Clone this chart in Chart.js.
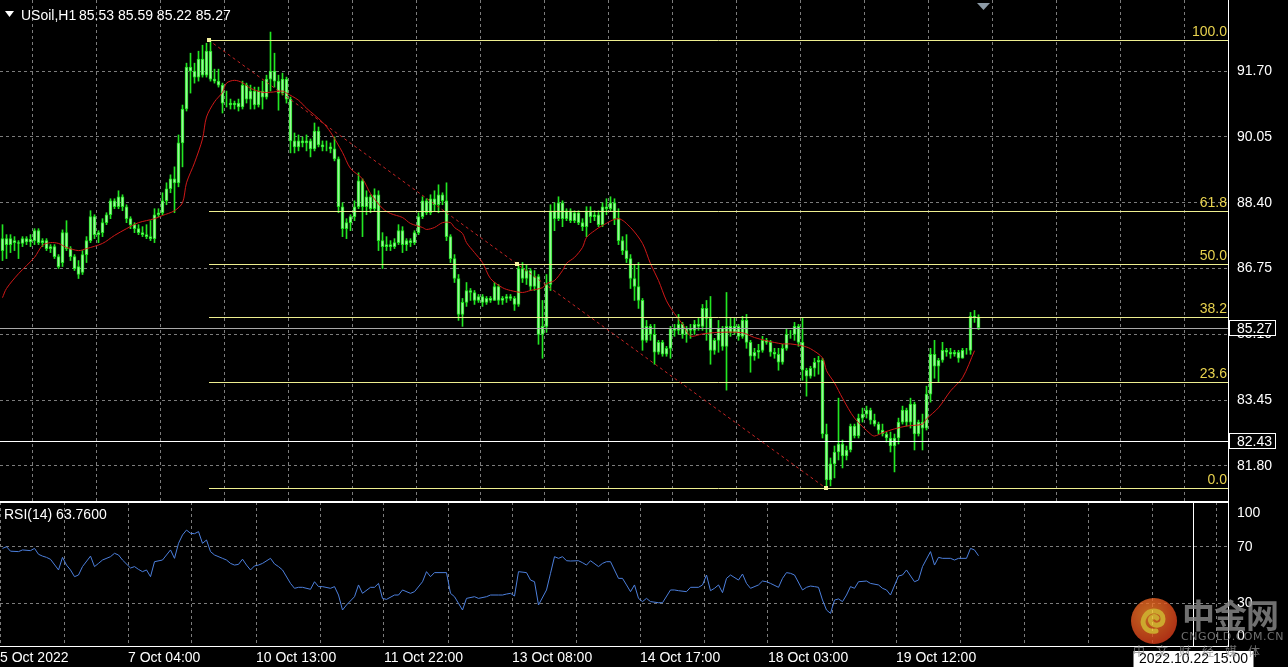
<!DOCTYPE html>
<html>
<head>
<meta charset="utf-8">
<script src="https://cdn.jsdelivr.net/npm/chart.js@4.4.1/dist/chart.umd.min.js"></script>
<style>
html, body { margin: 0; padding: 0; background: #000; overflow: hidden; }
#wrap { position: relative; width: 1288px; height: 667px; }
#main { position: absolute; left: 0; top: 0; }
#rsi { position: absolute; left: 0; top: 501px; }
#wm { position: absolute; left: 1128px; top: 595px; width: 160px; height: 64px; opacity: 0.8; pointer-events: none; }
#wm .big { position: absolute; left: 54px; top: 0; font: bold 33px "Noto Sans CJK SC", sans-serif; color: #8c8c8c; letter-spacing: -1px; line-height: 38px; }
#wm .url { position: absolute; left: 53px; top: 35px; font: 11px "DejaVu Sans", sans-serif; color: #8c8c8c; letter-spacing: 0.5px; }
#wm .sub { position: absolute; left: 5px; top: 47px; font: 12px "Noto Sans CJK SC", sans-serif; color: #8c8c8c; letter-spacing: 11px; white-space: nowrap; }
#wm svg { position: absolute; left: 2px; top: 2px; }
</style>
</head>
<body>
<div id="wrap">
  <canvas id="main" width="1288" height="501"></canvas>
  <canvas id="rsi" width="1288" height="166"></canvas>
  <div id="wm">
    <svg width="48" height="48" viewBox="0 0 48 48">
      <defs><radialGradient id="g" cx="40%" cy="35%" r="70%"><stop offset="0" stop-color="#f6862a"/><stop offset="1" stop-color="#d8391a"/></radialGradient></defs>
      <circle cx="24" cy="24" r="23" fill="url(#g)"/>
      <path d="M26 34 C16 36 10 27 15 19 C20 11 33 13 33 22 C33 29 24 30 21 25 C19 21 24 18 27 21" fill="none" stroke="#ffd23a" stroke-width="5" stroke-linecap="round"/>
    </svg>
    <div class="big">中金网</div>
    <div class="url">CNGOLD.COM.CN</div>
    <div class="sub">中文财经媒体</div>
  </div>
</div>
<script>
// USOIL H1 candles, one entry per hourly bar
const open = [
  87.2, 87.5, 87.35, 87.45, 87.4, 87.38, 87.5, 87.42, 87.45, 87.7,
  87.4, 87.45, 87.25, 87.3, 87.05, 86.9, 87.65, 87.25, 87.05, 86.8,
  86.65, 87.1, 87.45, 88.05, 87.6, 87.65, 87.9, 88.1, 88.45, 88.3,
  88.55, 88.3, 88.0, 87.85, 87.75, 87.65, 87.6, 87.55, 87.5, 88.1,
  88.15, 88.45, 88.75, 89.0, 88.9, 89.9, 90.75, 91.8, 91.7, 91.55,
  92.0, 91.6, 92.2, 91.5, 91.45, 91.35, 90.9, 90.9, 90.85, 90.9,
  90.8, 91.35, 91.0, 91.2, 90.85, 91.2, 91.05, 91.5, 91.7, 91.45,
  91.15, 91.5, 91.0, 89.95, 89.8, 89.95, 89.9, 89.95, 89.75, 90.2,
  89.85, 89.8, 89.8, 89.75, 89.5, 88.3, 87.75, 87.9, 88.05, 88.3,
  88.95, 88.3, 88.55, 88.25, 88.6, 87.45, 87.3, 87.35, 87.3, 87.4,
  87.7, 87.35, 87.45, 87.4, 87.65, 88.05, 88.45, 88.15, 88.5, 88.35,
  88.6, 88.45, 87.55, 87.0, 86.5, 85.6, 85.9, 86.2, 86.15, 85.95,
  86.05, 85.9, 86.0, 85.95, 86.3, 85.95, 86.0, 86.05, 86.0, 85.85,
  86.75, 86.5, 86.7, 86.3, 86.55, 85.1, 85.3, 86.35, 88.2, 88.0,
  88.4, 88.0, 88.2, 87.95, 88.15, 87.9, 87.8, 88.2, 88.05, 88.1,
  87.85, 88.3, 88.25, 88.4, 88.0, 87.45, 87.2, 87.0, 86.5, 86.3,
  85.95, 84.95, 85.3, 85.1, 84.65, 84.9, 84.6, 84.75, 85.25, 85.2,
  85.35, 85.1, 85.25, 85.2, 85.35, 85.3, 85.75, 85.5, 84.7, 84.95,
  85.25, 84.8, 85.3, 85.15, 85.3, 85.05, 85.45, 84.9, 84.55, 84.65,
  84.7, 84.95, 84.9, 84.65, 84.6, 84.4, 84.75, 85.1, 85.1, 85.3,
  84.9, 84.2, 84.05, 84.25, 84.4, 84.45, 82.6, 81.45, 81.85, 82.15,
  82.35, 82.05, 82.2, 82.8, 82.55, 83.0, 83.1, 83.2, 82.95, 82.85,
  82.7, 82.6, 82.5, 82.3, 82.5, 82.9, 83.2, 82.9, 83.35, 82.6,
  82.9, 82.75, 83.6, 84.6, 84.3, 84.45, 84.7, 84.65, 84.6, 84.65,
  84.5, 84.7, 84.7, 85.55, 85.53
];
const high = [
  87.85, 87.6, 87.6, 87.55, 87.45, 87.55, 87.55, 87.6, 87.75, 87.75,
  87.5, 87.5, 87.35, 87.35, 87.1, 87.72, 87.95, 87.3, 87.1, 86.95,
  87.2, 87.55, 88.2, 88.1, 87.7, 88.0, 88.15, 88.5, 88.5, 88.7,
  88.6, 88.35, 88.05, 87.9, 87.85, 87.8, 87.85, 87.95, 88.25, 88.25,
  88.65, 88.9, 89.1, 89.3, 90.1, 90.85, 91.9, 92.15, 91.9, 92.2,
  92.35, 92.4, 92.48, 91.75, 91.75, 91.4, 91.2, 91.0, 90.95, 91.0,
  91.45, 91.4, 91.35, 91.3, 91.3, 91.45, 91.6, 92.68, 92.15, 91.6,
  91.65, 91.55, 91.05, 90.15, 90.1, 90.05, 90.1, 90.0, 90.4, 90.3,
  89.95, 89.95, 89.9, 90.05, 89.55, 88.4, 88.0, 88.1, 88.45, 89.15,
  89.0, 88.7, 88.6, 88.75, 88.7, 87.65, 87.55, 87.45, 87.5, 87.85,
  87.8, 87.5, 87.5, 87.7, 88.15, 88.55, 88.5, 88.6, 88.7, 88.85,
  88.65, 88.9, 87.6, 87.1, 86.6, 86.0, 86.4, 86.25, 86.2, 86.1,
  86.1, 86.05, 86.05, 86.4, 86.35, 86.05, 86.1, 86.1, 86.05, 86.85,
  86.9, 86.85, 86.75, 86.7, 86.6, 85.95, 86.6, 88.35, 88.4, 88.55,
  88.45, 88.25, 88.25, 88.2, 88.2, 88.0, 88.3, 88.3, 88.2, 88.2,
  88.4, 88.5, 88.55, 88.5, 88.25, 87.55, 87.6, 87.1, 86.85, 86.9,
  86.0, 85.45, 85.35, 85.35, 84.95, 84.95, 84.8, 85.3, 85.35, 85.6,
  85.4, 85.3, 85.35, 85.45, 85.5, 85.85, 85.95, 86.05, 85.0, 85.45,
  85.3, 86.15, 85.5, 85.5, 85.35, 85.55, 85.6, 84.95, 84.75, 84.85,
  85.05, 85.0, 84.95, 84.75, 84.75, 84.85, 85.25, 85.2, 85.4, 85.35,
  85.5, 84.25, 84.3, 84.5, 84.55, 84.5, 82.85, 82.0, 82.3, 83.5,
  82.45, 82.3, 82.85, 82.85, 83.1, 83.25, 83.3, 83.25, 83.1, 82.9,
  82.85, 82.65, 82.65, 82.6, 83.0, 83.3, 83.25, 83.5, 83.4, 82.95,
  83.1, 83.8, 84.75, 84.95, 84.5, 84.9, 84.75, 84.75, 84.7, 84.7,
  84.75, 84.75, 85.65, 85.7, 85.59
];
const low = [
  86.95, 87.0, 87.15, 87.2, 87.0, 87.3, 87.35, 87.3, 87.35, 87.35,
  87.3, 87.2, 87.15, 87.0, 86.75, 86.8, 87.2, 86.95, 86.7, 86.5,
  86.6, 86.9, 87.4, 87.5, 87.4, 87.55, 87.85, 88.0, 88.25, 88.25,
  88.2, 87.9, 87.75, 87.65, 87.6, 87.55, 87.5, 87.45, 87.4, 88.05,
  88.1, 88.35, 88.65, 88.15, 88.8, 89.3, 90.7, 91.15, 91.4, 91.45,
  91.55, 91.55, 91.45, 91.4, 91.3, 90.65, 90.8, 90.75, 90.75, 90.7,
  90.75, 90.9, 90.75, 90.75, 90.8, 90.75, 91.0, 91.2, 91.3, 90.72,
  91.1, 90.9, 89.65, 89.65, 89.7, 89.8, 89.7, 89.55, 89.7, 89.8,
  89.7, 89.7, 89.65, 89.45, 88.15, 87.55, 87.5, 87.7, 87.95, 88.25,
  87.55, 88.1, 88.15, 88.2, 87.2, 86.75, 87.2, 87.2, 87.25, 87.35,
  87.15, 87.2, 87.3, 87.35, 87.6, 88.0, 88.1, 88.1, 88.2, 88.15,
  88.35, 87.45, 86.9, 86.4, 85.45, 85.3, 85.8, 85.95, 85.85, 85.9,
  85.8, 85.85, 85.9, 85.95, 85.85, 85.85, 85.9, 85.95, 85.7, 85.8,
  86.4, 86.35, 86.2, 86.2, 84.85, 84.5, 85.15, 86.2, 87.7, 87.95,
  87.8, 87.95, 87.9, 87.9, 87.85, 87.7, 87.55, 87.9, 87.95, 87.8,
  87.8, 88.1, 88.2, 87.85, 87.35, 87.1, 86.9, 86.25, 85.95, 85.75,
  84.7, 84.9, 84.95, 84.35, 84.6, 84.55, 84.55, 84.5, 85.05, 85.1,
  85.0, 84.9, 85.0, 85.1, 85.2, 85.2, 84.95, 84.35, 84.6, 84.65,
  84.7, 83.7, 85.05, 85.1, 84.95, 85.0, 84.75, 84.15, 84.45, 84.5,
  84.65, 84.85, 84.55, 84.5, 84.2, 84.35, 84.7, 85.0, 84.95, 84.8,
  83.95, 83.55, 84.0, 84.05, 84.1, 82.5, 81.25, 81.3, 81.5, 81.95,
  81.75, 81.95, 82.15, 82.5, 82.5, 82.9, 83.0, 82.85, 82.8, 82.6,
  82.55, 82.4, 82.15, 81.65, 82.35, 82.85, 82.8, 82.75, 82.2, 82.55,
  82.2, 82.7, 83.4, 84.0, 83.9, 84.4, 84.55, 84.5, 84.55, 84.4,
  84.5, 84.6, 84.6, 85.4, 85.22
];
const close = [
  87.5, 87.35, 87.5, 87.4, 87.38, 87.5, 87.42, 87.48, 87.7, 87.4,
  87.45, 87.25, 87.3, 87.05, 86.8, 87.65, 87.25, 87.05, 86.75, 86.6,
  87.1, 87.45, 88.05, 87.6, 87.65, 87.9, 88.1, 88.45, 88.3, 88.55,
  88.3, 88.0, 87.85, 87.75, 87.65, 87.6, 87.55, 87.5, 88.1, 88.15,
  88.45, 88.75, 89.0, 88.9, 89.9, 90.75, 91.8, 91.7, 91.55, 92.0,
  91.6, 92.2, 91.5, 91.45, 91.35, 90.9, 90.9, 90.85, 90.9, 90.8,
  91.35, 91.0, 91.2, 90.85, 91.2, 91.05, 91.5, 91.7, 91.45, 91.15,
  91.5, 91.0, 89.95, 89.8, 89.95, 89.9, 89.95, 89.75, 90.2, 89.85,
  89.8, 89.8, 89.75, 89.5, 88.3, 87.75, 87.9, 88.05, 88.3, 88.95,
  88.3, 88.55, 88.25, 88.6, 87.45, 87.3, 87.35, 87.3, 87.4, 87.7,
  87.35, 87.45, 87.4, 87.65, 88.05, 88.45, 88.15, 88.5, 88.35, 88.6,
  88.45, 87.55, 87.0, 86.5, 85.6, 85.9, 86.2, 86.15, 85.95, 86.05,
  85.9, 86.0, 85.95, 86.3, 85.95, 86.0, 86.05, 86.0, 85.85, 86.75,
  86.5, 86.7, 86.3, 86.55, 85.1, 85.3, 86.35, 88.2, 88.0, 88.4,
  88.0, 88.2, 87.95, 88.15, 87.9, 87.8, 88.2, 88.05, 88.1, 87.85,
  88.3, 88.25, 88.4, 88.0, 87.45, 87.2, 87.0, 86.5, 86.3, 85.95,
  84.95, 85.3, 85.1, 84.65, 84.9, 84.6, 84.75, 85.25, 85.2, 85.35,
  85.1, 85.25, 85.2, 85.35, 85.3, 85.75, 85.5, 84.7, 84.95, 85.25,
  84.8, 85.3, 85.15, 85.3, 85.05, 85.45, 84.9, 84.55, 84.65, 84.7,
  84.95, 84.9, 84.65, 84.6, 84.4, 84.75, 85.1, 85.1, 85.3, 84.9,
  84.2, 84.05, 84.25, 84.4, 84.45, 82.6, 81.45, 81.85, 82.15, 82.35,
  82.05, 82.2, 82.8, 82.55, 83.0, 83.1, 83.2, 82.95, 82.85, 82.7,
  82.6, 82.5, 82.3, 82.5, 82.9, 83.2, 82.9, 83.35, 82.6, 82.9,
  82.75, 83.6, 84.6, 84.3, 84.45, 84.7, 84.65, 84.6, 84.65, 84.5,
  84.7, 84.7, 85.55, 85.53, 85.27
];

// red moving average, read at the bars where it could be measured
const maBar = [0, 1, 4, 8, 10, 12, 14, 16, 19, 21, 25, 28, 31, 34, 38, 40, 43, 45, 46, 48,
  50, 51, 53, 55, 56, 58, 60, 62, 65, 67, 70, 71, 74, 76, 80, 82, 85, 87, 90, 92,
  95, 97, 100, 102, 105, 106, 108, 110, 112, 113, 115, 116, 118, 120, 122, 125, 127, 130, 132, 135,
  136, 138, 140, 141, 143, 145, 146, 148, 150, 154, 157, 160, 162, 164, 166, 168, 170, 172, 175, 179,
  185, 188, 191, 195, 197, 200, 202, 205, 206, 208, 210, 213, 217, 218, 220, 223, 226, 230, 231, 234,
  237, 240, 243];
const maVal = [86.02, 86.25, 86.62, 87.03, 87.33, 87.40, 87.38, 87.28, 87.20, 87.25, 87.38, 87.58, 87.75, 87.90, 88.00, 88.08, 88.20, 88.40, 88.90, 89.40,
  90.00, 90.55, 90.93, 91.17, 91.40, 91.47, 91.41, 91.27, 91.17, 91.17, 91.20, 91.15, 90.97, 90.77, 90.42, 90.17, 89.66, 89.26, 89.00, 88.63,
  88.26, 88.13, 88.03, 87.88, 87.78, 87.73, 87.78, 87.90, 87.90, 87.78, 87.63, 87.40, 87.15, 86.90, 86.50, 86.27, 86.20, 86.15, 86.20, 86.27,
  86.37, 86.45, 86.70, 86.88, 87.03, 87.28, 87.53, 87.70, 87.83, 88.00, 87.78, 87.38, 86.87, 86.45, 85.94, 85.62, 85.36, 85.06, 85.11, 85.15,
  85.14, 85.02, 84.94, 84.86, 84.86, 84.81, 84.74, 84.51, 84.19, 83.88, 83.50, 83.00, 82.60, 82.55, 82.63, 82.73, 82.80, 82.85, 82.98, 83.26,
  83.68, 84.01, 84.69];

// RSI(14)
const rsiBar = [0, 1, 2, 4, 5, 7, 8, 9, 10, 11, 12, 14, 15, 16, 17, 18, 19, 20, 22, 23,
  24, 25, 27, 28, 29, 30, 32, 33, 34, 35, 36, 37, 38, 40, 41, 42, 43, 44, 45, 46,
  47, 48, 49, 50, 51, 52, 53, 55, 56, 57, 58, 59, 60, 61, 62, 63, 64, 65, 67, 68,
  69, 70, 72, 73, 74, 75, 77, 78, 79, 80, 82, 83, 84, 85, 86, 88, 89, 90, 92, 93,
  94, 95, 96, 98, 99, 100, 102, 103, 105, 106, 107, 108, 111, 112, 113, 115, 116, 118, 119, 121,
  122, 124, 125, 126, 127, 128, 129, 131, 132, 133, 134, 136, 137, 138, 139, 140, 141, 142, 144, 145,
  146, 147, 149, 150, 151, 152, 154, 155, 156, 157, 158, 159, 160, 161, 162, 164, 165, 167, 168, 169,
  171, 172, 174, 175, 176, 177, 178, 179, 180, 181, 182, 184, 185, 186, 187, 189, 190, 191, 192, 194,
  195, 196, 197, 198, 200, 201, 202, 203, 204, 205, 206, 207, 208, 209, 210, 211, 212, 213, 214, 216,
  217, 219, 220, 221, 222, 224, 225, 226, 228, 229, 230, 232, 233, 234, 235, 237, 238, 239, 241, 242,
  243, 244];
const rsiVal = [69.0, 70.2, 67.0, 66.7, 67.9, 67.4, 69.0, 64.8, 63.5, 62.6, 61.2, 53.6, 62.6, 57.1, 53.6, 48.8, 50.0, 56.0, 63.5, 56.0,
  58.3, 60.7, 63.1, 65.5, 64.3, 60.7, 55.0, 56.0, 54.0, 52.4, 53.6, 48.8, 59.5, 60.7, 64.3, 67.9, 61.9, 72.6, 78.6, 82.1,
  79.8, 79.5, 81.0, 72.6, 75.0, 66.7, 64.3, 61.9, 60.7, 58.3, 57.1, 57.6, 61.3, 57.1, 53.6, 56.5, 57.1, 58.3, 61.9, 57.9,
  56.0, 53.6, 44.0, 40.5, 41.2, 41.2, 39.8, 45.2, 41.7, 41.7, 40.5, 41.7, 35.7, 25.0, 28.6, 34.5, 42.9, 36.9, 41.2, 41.2,
  44.0, 33.3, 32.6, 35.7, 35.7, 39.3, 36.9, 38.1, 45.2, 52.4, 48.8, 51.7, 51.7, 36.9, 34.5, 25.0, 33.3, 34.5, 33.3, 34.5,
  35.7, 35.7, 35.7, 36.4, 36.9, 35.0, 52.4, 51.7, 46.4, 45.2, 28.6, 39.3, 51.2, 63.1, 61.9, 63.1, 60.2, 60.0, 60.2, 58.8,
  57.1, 60.2, 56.0, 58.3, 59.5, 59.5, 47.6, 47.6, 42.9, 38.1, 42.9, 33.3, 31.0, 33.3, 31.0, 30.2, 30.2, 39.3, 39.3, 38.8,
  38.1, 41.2, 41.2, 42.9, 50.0, 38.8, 40.5, 42.9, 37.4, 47.6, 50.0, 46.4, 50.7, 44.0, 40.5, 42.9, 45.7, 45.2, 44.0, 41.2,
  47.6, 51.7, 51.2, 50.0, 39.3, 41.2, 42.1, 41.7, 41.2, 32.1, 25.0, 22.6, 32.1, 32.9, 31.0, 35.7, 41.7, 40.5, 45.2, 45.7,
  44.0, 42.9, 40.5, 39.3, 35.7, 49.3, 50.0, 53.6, 45.2, 46.4, 56.0, 66.7, 57.1, 62.6, 61.9, 61.9, 60.7, 61.9, 61.9, 69.0,
  67.9, 63.76];

// axis ticks and labels
const priceTicks = [91.70, 90.05, 88.40, 86.75, 85.10, 83.45, 81.80];
const rsiTicks = [100, 70, 30, 0];
const timeLabels = ['5 Oct 2022', '7 Oct 04:00', '10 Oct 13:00', '11 Oct 22:00', '13 Oct 08:00', '14 Oct 17:00', '18 Oct 03:00', '19 Oct 12:00'];

// objects on the chart
const fibHigh = 92.48, fibLow = 81.25;
const fibLevels = [100, 61.8, 50, 38.2, 23.6, 0];
const trendFrom = [51.5, 92.48], trendTo = [205.75, 81.25];
const hLine = 82.43;
const vLineBar = 297.5, vLineLabel = '2022.10.22 15:00';

const FONT = '"Liberation Sans", Arial, sans-serif';
Chart.defaults.font.family = FONT;
Chart.defaults.font.size = 14;
Chart.defaults.color = '#ffffff';

const X_MIN = -0.625, X_MAX = 306.375; // 307 slots, 4px each
const GRID = '#7c7c7c';
const gridTicks = s => {
  const t = [];
  for (let v = X_MIN; v < X_MAX; v += 16) t.push({ value: v });
  s.ticks = t;
};
const noPad = s => { s.paddingTop = 0; s.paddingBottom = 0; s.paddingLeft = 0; s.paddingRight = 0; };

const last = close.length - 1;

const mainOverlay = {
  id: 'mainOverlay',
  afterDatasetsDraw(chart) {
    const { ctx, chartArea: a, scales: { x, y } } = chart;
    const py = v => Math.round(y.getPixelForValue(v)) + 0.5;
    const hl = (yy, x0, x1) => { ctx.beginPath(); ctx.moveTo(x0, yy); ctx.lineTo(x1, yy); ctx.stroke(); };
    ctx.save();
    ctx.lineWidth = 1;

    // bid line
    ctx.strokeStyle = '#a9a9a9';
    hl(py(close[last]), a.left, a.right);

    // horizontal line object
    ctx.strokeStyle = '#ffffff';
    hl(py(hLine), a.left, a.right);

    // fibonacci levels
    const fx = Math.round(x.getPixelForValue(trendFrom[0]));
    ctx.font = '14px ' + FONT;
    ctx.textAlign = 'right';
    ctx.textBaseline = 'bottom';
    fibLevels.forEach(l => {
      const yy = py(fibLow + (fibHigh - fibLow) * l / 100);
      ctx.strokeStyle = '#eeee90';
      hl(yy, fx, a.right);
      ctx.fillStyle = '#e8d24e';
      ctx.fillText(l.toFixed(1), a.right - 1, yy - 1);
    });

    // fibo trend line
    const tx0 = x.getPixelForValue(trendFrom[0]), ty0 = y.getPixelForValue(trendFrom[1]);
    const tx1 = x.getPixelForValue(trendTo[0]), ty1 = y.getPixelForValue(trendTo[1]);
    ctx.setLineDash([3, 3]);
    ctx.strokeStyle = '#c62424';
    ctx.beginPath(); ctx.moveTo(tx0, ty0); ctx.lineTo(tx1, ty1); ctx.stroke();
    ctx.setLineDash([]);
    ctx.fillStyle = '#f4f0a0';
    [[tx0, ty0], [(tx0 + tx1) / 2, (ty0 + ty1) / 2], [tx1, ty1]].forEach(([px, pyy]) => {
      ctx.fillRect(Math.round(px) - 2, Math.round(pyy) - 2, 4, 4);
    });

    // price boxes on the axis
    [close[last], hLine].forEach(v => {
      const yy = Math.round(y.getPixelForValue(v));
      ctx.fillStyle = '#000';
      ctx.fillRect(a.right + 1, yy - 8, 47, 16);
      ctx.strokeStyle = '#ffffff';
      ctx.strokeRect(a.right + 1.5, yy - 7.5, 46, 15);
      ctx.fillStyle = '#ffffff';
      ctx.textAlign = 'left';
      ctx.textBaseline = 'middle';
      ctx.fillText(v.toFixed(2), a.right + 9, yy + 1);
    });

    // header
    ctx.fillStyle = '#ffffff';
    ctx.beginPath(); ctx.moveTo(5, 11); ctx.lineTo(14, 11); ctx.lineTo(9.5, 17); ctx.closePath(); ctx.fill();
    ctx.textAlign = 'left';
    ctx.textBaseline = 'middle';
    ctx.fillText('USoil,H1', 21, 16);
    ctx.fillText([open[last], high[last], low[last], close[last]].map(v => v.toFixed(2)).join(' '), 79, 16);

    // chart shift marker
    ctx.fillStyle = '#8c9aa6';
    ctx.beginPath(); ctx.moveTo(977, 3); ctx.lineTo(990, 3); ctx.lineTo(983.5, 10); ctx.closePath(); ctx.fill();
    ctx.restore();
  }
};

new Chart(document.getElementById('main'), {
  type: 'bar',
  data: {
    datasets: [
      {
        type: 'line',
        data: maBar.map((b, k) => ({ x: b, y: maVal[k] })),
        borderColor: '#d01818',
        borderWidth: 1,
        pointRadius: 0,
        tension: 0.3,
        order: 0
      },
      {
        data: high.map((h, i) => ({ x: i, y: [low[i], h] })),
        backgroundColor: '#22e622',
        barThickness: 1,
        grouped: false,
        order: 2
      },
      {
        data: open.map((o, i) => ({ x: i, y: [o, close[i]] })),
        backgroundColor: '#9cf79c',
        borderColor: '#22e622',
        borderWidth: 1,
        borderSkipped: false,
        barThickness: 3,
        grouped: false,
        order: 1
      }
    ]
  },
  options: {
    responsive: false,
    animation: false,
    layout: { padding: 0 },
    plugins: { legend: { display: false }, tooltip: { enabled: false } },
    scales: {
      x: {
        type: 'linear', min: X_MIN, max: X_MAX, offset: false,
        afterBuildTicks: gridTicks,
        ticks: { display: false },
        grid: { color: GRID, drawTicks: false },
        border: { display: false, dash: [3, 3] },
        afterFit: s => { s.height = 0; noPad(s); }
      },
      y: {
        position: 'right', min: 80.921, max: 93.484,
        afterBuildTicks: s => { s.ticks = priceTicks.map(v => ({ value: v })); },
        ticks: { callback: v => v.toFixed(2), padding: 9, color: '#ffffff' },
        grid: { color: GRID, drawTicks: false },
        border: { display: true, color: '#ffffff', dash: [3, 3] },
        afterFit: s => { s.width = 60; noPad(s); }
      }
    }
  },
  plugins: [mainOverlay]
});

const rsiOverlay = {
  id: 'rsiOverlay',
  afterDatasetsDraw(chart) {
    const { ctx, chartArea: a, scales: { x, y } } = chart;
    ctx.save();
    // pane frame
    ctx.fillStyle = '#ffffff';
    ctx.fillRect(0, 0, a.right + 1, 2);
    ctx.fillRect(0, a.bottom, a.right + 1, 1);
    // y labels, kept inside the pane
    ctx.font = '14px ' + FONT;
    ctx.textAlign = 'left';
    ctx.textBaseline = 'middle';
    rsiTicks.forEach(v => {
      const yy = Math.min(Math.max(y.getPixelForValue(v), a.top + 11), a.bottom - 10);
      ctx.fillText(String(v), a.right + 9, yy);
    });
    // indicator name
    ctx.fillText('RSI(14) ' + rsiVal[rsiVal.length - 1].toFixed(4), 4, 14);
    // vertical line object and its time label
    const vx = Math.round(x.getPixelForValue(vLineBar)) + 0.5;
    ctx.strokeStyle = '#ffffff';
    ctx.lineWidth = 1;
    ctx.beginPath(); ctx.moveTo(vx, a.top); ctx.lineTo(vx, a.bottom); ctx.stroke();
    ctx.fillStyle = '#ffffff';
    ctx.fillRect(vx - 60, a.bottom + 5, 120, 16);
    ctx.fillStyle = '#000';
    ctx.textAlign = 'center';
    ctx.fillText(vLineLabel, vx, a.bottom + 13.5);
    ctx.restore();
  }
};

new Chart(document.getElementById('rsi'), {
  type: 'line',
  data: {
    datasets: [{
      data: rsiBar.map((b, k) => ({ x: b, y: rsiVal[k] })),
      borderColor: '#4c7fdc',
      borderWidth: 1,
      pointRadius: 0,
      tension: 0
    }]
  },
  options: {
    responsive: false,
    animation: false,
    layout: { padding: { top: 1 } },
    plugins: { legend: { display: false }, tooltip: { enabled: false } },
    scales: {
      x: {
        type: 'linear', min: X_MIN, max: X_MAX, offset: false,
        afterBuildTicks: gridTicks,
        ticks: {
          autoSkip: false, maxRotation: 0, align: 'start', padding: 4, color: '#ffffff',
          callback: (v, i) => (i % 2 === 0 && timeLabels[i / 2]) || ''
        },
        grid: { color: GRID, drawTicks: false },
        border: { display: false, dash: [3, 3] },
        afterFit: s => { s.height = 21; noPad(s); }
      },
      y: {
        position: 'right', min: -0.71, max: 102.14,
        afterBuildTicks: s => { s.ticks = rsiTicks.map(v => ({ value: v })); },
        ticks: { display: false },
        grid: {
          color: c => (c.tick && (c.tick.value === 70 || c.tick.value === 30)) ? GRID : 'rgba(0,0,0,0)',
          drawTicks: false
        },
        border: { display: true, color: '#ffffff', dash: [3, 3] },
        afterFit: s => { s.width = 60; noPad(s); }
      }
    }
  },
  plugins: [rsiOverlay]
});
</script>
</body>
</html>
